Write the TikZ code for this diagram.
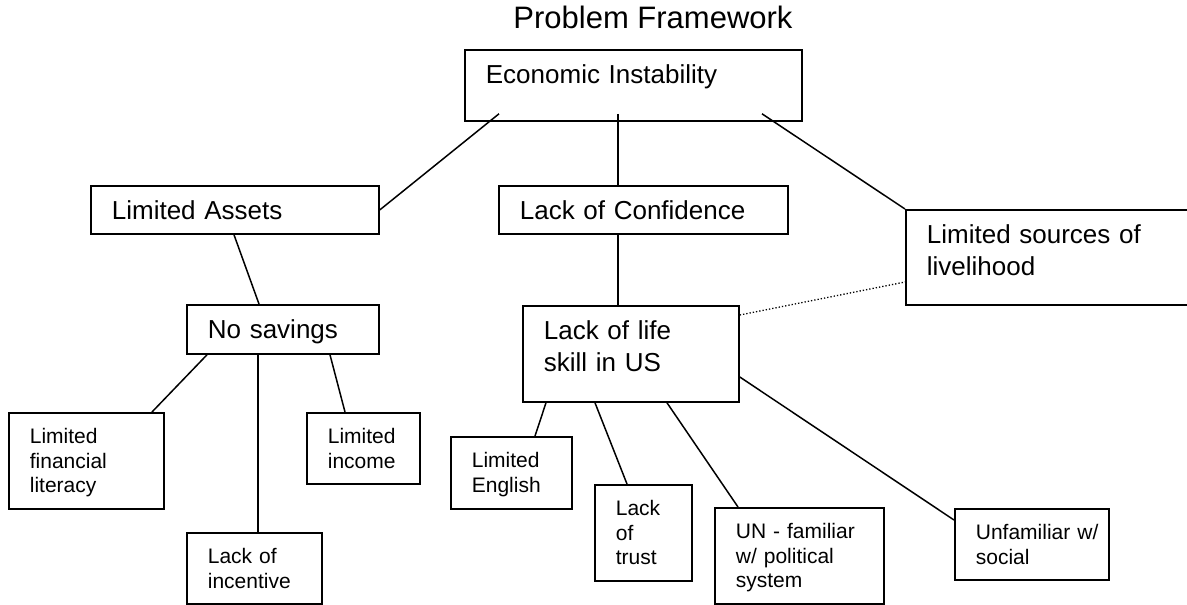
\documentclass[tikz,border=0pt]{standalone}
\usepackage{fontspec}
\setmainfont{Liberation Sans}
\tikzset{
    bigbox/.style={draw, line width=1.8pt, anchor=north west, align=left,
        inner xsep=21pt, inner ysep=0pt, text height=34pt,
        font=\fontsize{26}{32}\selectfont},
    smallbox/.style={draw, line width=1.7pt, anchor=north west, align=left,
        inner xsep=21pt, inner ysep=0pt, text height=31pt,
        font=\fontsize{21}{24.5}\selectfont},
    link/.style={line width=1.5pt},
}
\begin{document}
\begin{tikzpicture}[x=1pt,y=-1pt]
            \useasboundingbox (0,0) rectangle (1187,605);
            \node[anchor=base,font=\fontsize{31}{35}\selectfont] (title) at (653,28) {Problem Framework};

            \node[bigbox, text width=295pt, text depth=37pt] (ei) at (464,49) {Economic Instability};
            \node[bigbox, text width=246pt, text depth=14pt] (assets) at (90,185) {Limited Assets};
            \node[bigbox, text width=247pt, text depth=14pt] (conf) at (498,185) {Lack of Confidence};
            \node[bigbox, text width=253pt, text depth=61pt] (sources) at (905,209) {Limited sources of\\livelihood};
            \node[bigbox, text width=150pt, text depth=15pt] (nosav) at (186,304) {No savings};
            \node[bigbox, text width=174pt, text depth=62pt] (life) at (522,305) {Lack of life\\skill in US};

            \node[smallbox, text width=113pt, text depth=65pt] (literacy) at (8,412) {Limited\\financial\\literacy};
            \node[smallbox, text width=71pt, text depth=40pt] (income) at (306,412) {Limited\\income};
            \node[smallbox, text width=93pt, text depth=40pt] (incentive) at (186,532) {Lack of\\incentive};
            \node[smallbox, text width=79pt, text depth=41pt] (english) at (450,436) {Limited\\English};
            \node[smallbox, text width=55pt, text depth=65pt] (trust) at (594,484) {Lack\\of\\trust};
            \node[smallbox, text width=127pt, text depth=65pt] (unfam) at (714,507) {UN - familiar\\w/ political\\system};
            \node[smallbox, text width=112pt, text depth=40pt] (social) at (954,508) {Unfamiliar~w/\\social};

            \draw[link] ([xshift=35pt,yshift=8pt]ei.south west) -- (assets.east);
            \draw[link] ([xshift=154pt,yshift=8pt]ei.south west) coordinate (ei-m) -- (ei-m |- conf.north);
            \draw[link] ([xshift=298pt,yshift=8pt]ei.south west) -- (sources.north west);
            \draw[link] ([xshift=144pt]assets.south west) -- ([xshift=73pt]nosav.north west);
            \draw[link] ([xshift=120pt]conf.south west) -- ([xshift=96pt]life.north west);
            \draw[dotted, line width=1.3pt] ([yshift=-10pt]life.north east) -- ([yshift=-73pt]sources.north west);

            \draw[link] ([xshift=21pt]nosav.south west) -- ([xshift=144pt]literacy.north west);
            \draw[link] ([xshift=72pt]nosav.south west) coordinate (ns-m) -- (ns-m |- incentive.north);
            \draw[link] ([xshift=144pt]nosav.south west) -- ([xshift=39pt]income.north west);

            \draw[link] ([xshift=24pt]life.south west) -- ([xshift=85pt]english.north west);
            \draw[link] ([xshift=73pt]life.south west) -- ([xshift=33pt]trust.north west);
            \draw[link] ([xshift=145pt]life.south west) -- ([xshift=24pt]unfam.north west);
            \draw[link] ([yshift=-72pt]life.north east) -- ([yshift=-12pt]social.north west);
\end{tikzpicture}
\end{document}
